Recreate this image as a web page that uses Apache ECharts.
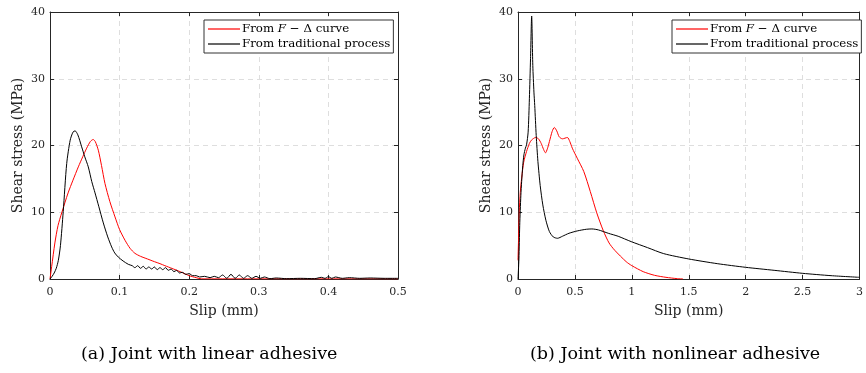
<!DOCTYPE html>
<html>
<head>
<meta charset="utf-8">
<script src="https://cdn.jsdelivr.net/npm/echarts@6/dist/echarts.min.js"></script>
<style>
html,body{margin:0;padding:0;background:#fff;}
#c{width:866px;height:373px;}
</style>
</head>
<body>
<div id="c"></div>
<script>
// ---------- data ----------
var yTicks = [0, 10, 20, 30, 40];
var xTicksA = [0, 0.1, 0.2, 0.3, 0.4, 0.5];
var xTicksB = [0, 0.5, 1, 1.5, 2, 2.5, 3];
var seriesNames = ['From F − Δ curve', 'From traditional process'];
var captionA = '(a) Joint with linear adhesive';
var captionB = '(b) Joint with nonlinear adhesive';

// (a) linear adhesive – F-Δ curve
var aRedX = [0,0.0024,0.007,0.0115,0.0168,0.026,0.033,0.0407,0.047,0.0527,0.058,0.062,0.065,0.0694,0.074,0.079,0.086,0.0934,0.1,0.1078,0.115,0.122,0.13,0.14,0.15,0.158,0.165,0.175,0.187,0.2,0.21,0.218,0.35,0.5];
var aRedY = [0,1.85,5.4,8.0,9.9,12.9,14.8,16.8,18.3,19.6,20.6,20.9,20.6,19.3,17.0,14.3,11.6,9.3,7.4,5.8,4.6,3.85,3.4,3.0,2.6,2.3,2.0,1.6,1.1,0.5,0.2,0.02,0.02,0.02];
// (a) linear adhesive – traditional process
var aBlkX = [0,0.003,0.006,0.009,0.012,0.015,0.019,0.024,0.029,0.033,0.036,0.040,0.0455,0.050,0.055,0.060,0.0647,0.070,0.0766,0.083,0.0886,0.093,0.098,0.105,0.1125,0.118,0.122,0.126,0.130,0.134,0.138,0.142,0.146,0.150,0.154,0.158,0.162,0.166,0.170,0.174,0.178,0.182,0.186,0.190,0.195,0.200,0.205,0.210,0.215,0.222,0.230,0.236,0.242,0.248,0.254,0.260,0.266,0.272,0.278,0.284,0.290,0.296,0.302,0.308,0.316,0.325,0.340,0.360,0.380,0.390,0.395,0.400,0.405,0.410,0.420,0.430,0.445,0.460,0.480,0.500];
var aBlkY = [0,0.4,0.9,1.6,2.8,5.0,10.1,17.3,20.8,22.0,22.2,21.6,19.8,18.3,16.8,14.6,12.9,10.9,8.4,6.3,4.8,3.9,3.3,2.7,2.2,2.0,1.7,2.0,1.6,1.9,1.5,1.8,1.5,1.8,1.4,1.7,1.4,1.7,1.3,1.5,1.1,1.3,0.9,1.0,0.7,0.8,0.5,0.5,0.3,0.4,0.2,0.4,0.2,0.6,0.1,0.7,0.1,0.6,0.1,0.5,0.1,0.4,0.1,0.3,0.05,0.15,0.05,0.1,0.05,0.25,0.1,0.35,0.1,0.3,0.1,0.2,0.1,0.15,0.1,0.1];

// (b) nonlinear adhesive – F-Δ curve
var bRedX = [0,0.005,0.011,0.02,0.032,0.05,0.075,0.1,0.118,0.155,0.18,0.204,0.225,0.241,0.258,0.276,0.3,0.319,0.34,0.362,0.39,0.434,0.455,0.477,0.52,0.578,0.635,0.692,0.75,0.8,0.85,0.95,1.0,1.1,1.2,1.3,1.4,1.45];
var bRedY = [2.8,6,10,13,15.1,17.5,19.1,20.3,20.8,21.2,21.0,20.3,19.4,18.9,19.5,20.6,22.1,22.7,22.2,21.3,21.0,21.2,20.6,19.6,18.1,16.1,13.1,9.9,7.2,5.4,4.3,2.6,2.0,1.1,0.55,0.25,0.05,0];
// (b) nonlinear adhesive – traditional process
var bBlkX = [0,0.008,0.015,0.025,0.032,0.042,0.052,0.065,0.075,0.089,0.1,0.11,0.12,0.13,0.14,0.147,0.16,0.175,0.195,0.218,0.245,0.276,0.31,0.347,0.39,0.448,0.52,0.6,0.649,0.707,0.793,0.88,0.994,1.138,1.28,1.5,1.75,2.0,2.25,2.5,2.75,3.0];
var bBlkY = [0,3,8,12.5,14.6,17,18.6,19.6,20.1,22,27,33,39.4,32,28,26,21.5,17.6,14,11.1,8.8,7.1,6.3,6.1,6.4,6.85,7.2,7.45,7.5,7.35,6.85,6.4,5.6,4.7,3.8,3.0,2.3,1.75,1.3,0.85,0.5,0.25];

// ---------- chart ----------
function zip(xs, ys){ return xs.map(function(x,i){ return [x, ys[i]]; }); }
var FONT = 'DejaVu Serif';
var AX = '#262626';
var GRIDC = '#dedede';

var grids = [
  {left:50, top:12, width:348, height:267},
  {left:518, top:12, width:348, height:267}
];

function xAxesFor(gi, ticks){
  var min = ticks[0], max = ticks[ticks.length-1], step = ticks[1]-ticks[0];
  return [
    {type:'value', gridIndex:gi, min:min, max:max, interval:step, position:'bottom',
     name:'Slip (mm)', nameLocation:'middle', nameGap:25,
     nameTextStyle:{fontFamily:FONT, fontSize:14, color:AX},
     axisLine:{show:true, onZero:false, lineStyle:{color:AX, width:1}},
     axisTick:{show:true, inside:true, length:4, lineStyle:{color:AX}},
     axisLabel:{fontFamily:FONT, fontSize:11, color:AX, margin:8},
     splitLine:{show:true, lineStyle:{color:GRIDC, type:[5,4], width:1}}},
    {type:'value', gridIndex:gi, min:min, max:max, interval:step, position:'top',
     axisLine:{show:true, onZero:false, lineStyle:{color:AX, width:1}},
     axisTick:{show:true, inside:true, length:4, lineStyle:{color:AX}},
     axisLabel:{show:false}, splitLine:{show:false}}
  ];
}
function yAxesFor(gi){
  return [
    {type:'value', gridIndex:gi, min:yTicks[0], max:yTicks[yTicks.length-1], interval:yTicks[1]-yTicks[0], position:'left',
     name:'Shear stress (MPa)', nameLocation:'middle', nameGap:25,
     nameTextStyle:{fontFamily:FONT, fontSize:14, color:AX},
     axisLine:{show:true, onZero:false, lineStyle:{color:AX, width:1}},
     axisTick:{show:true, inside:true, length:4, lineStyle:{color:AX}},
     axisLabel:{fontFamily:FONT, fontSize:11, color:AX, margin:5},
     splitLine:{show:true, lineStyle:{color:GRIDC, type:[5,4], width:1}}},
    {type:'value', gridIndex:gi, min:yTicks[0], max:yTicks[yTicks.length-1], interval:yTicks[1]-yTicks[0], position:'right',
     axisLine:{show:true, onZero:false, lineStyle:{color:AX, width:1}},
     axisTick:{show:true, inside:true, length:4, lineStyle:{color:AX}},
     axisLabel:{show:false}, splitLine:{show:false}}
  ];
}

var xAxes = xAxesFor(0, xTicksA).concat(xAxesFor(1, xTicksB));
var yAxes = yAxesFor(0).concat(yAxesFor(1));

function line(name, data, xi, yi, color){
  return {type:'line', name:name, data:data, xAxisIndex:xi, yAxisIndex:yi,
    showSymbol:false, symbol:'none', smooth:0.25, animation:false,
    lineStyle:{color:color, width:1}, itemStyle:{color:color}};
}

var LFS = 11.8;
var legendRich = {
  n:{fontFamily:FONT, fontSize:LFS, color:'#000'},
  i:{fontFamily:FONT, fontSize:LFS, fontStyle:'italic', color:'#000'}
};
function legendFor(left){
  return {
    left:left, top:20, orient:'vertical', itemGap:3, itemWidth:32, itemHeight:1.2,
    icon:'rect',
    padding:[3,3,3,4], borderColor:'#333', borderWidth:1, backgroundColor:'#fff',
    data:seriesNames, selectedMode:false,
    textStyle:{fontFamily:FONT, fontSize:LFS, color:'#000', rich:legendRich, padding:[0,0,0,-3]},
    formatter:function(n){
      if(n === seriesNames[0]) return '{n|From }{i|F}{n| − Δ curve}';
      return '{n|' + n + '}';
    }
  };
}

var option = {
  backgroundColor:'#fff',
  animation:false,
  grid:grids,
  xAxis:xAxes,
  yAxis:yAxes,
  legend:[legendFor(204), legendFor(672)],
  series:[
    line(seriesNames[0], zip(aRedX, aRedY), 0, 0, '#ff0000'),
    line(seriesNames[1], zip(aBlkX, aBlkY), 0, 0, '#000000'),
    line(seriesNames[0], zip(bRedX, bRedY), 2, 2, '#ff0000'),
    line(seriesNames[1], zip(bBlkX, bBlkY), 2, 2, '#000000')
  ],
  graphic:[
    {type:'text', left:81, top:345, style:{text:captionA, fontFamily:FONT, fontSize:17.5, fill:'#000'}},
    {type:'text', left:530, top:345, style:{text:captionB, fontFamily:FONT, fontSize:17.5, fill:'#000'}}
  ]
};

var chart = echarts.init(document.getElementById('c'), null, {renderer:'canvas'});
chart.setOption(option);
</script>
</body>
</html>
